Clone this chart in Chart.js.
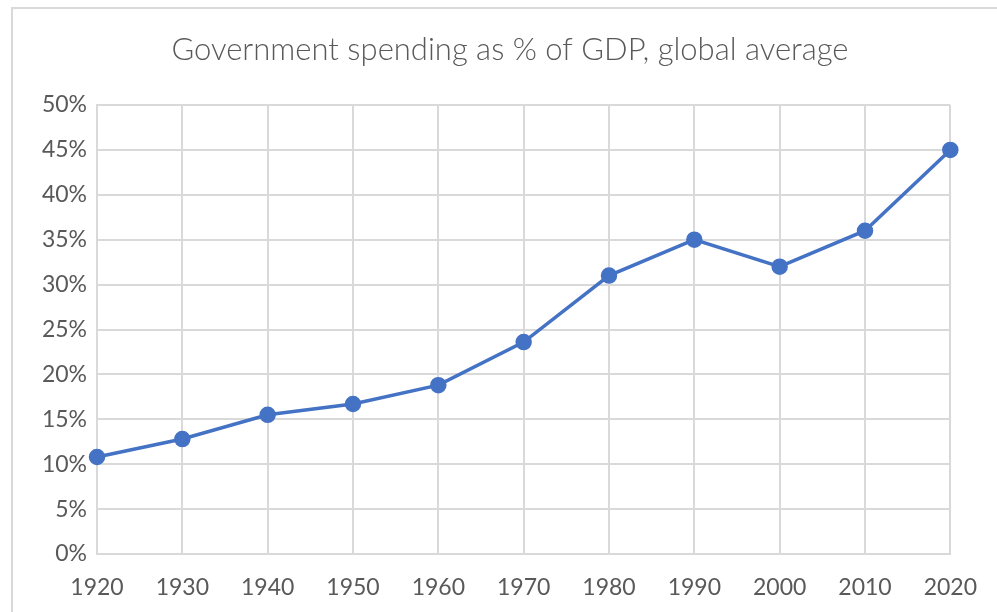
<!DOCTYPE html>
<html>
<head>
<meta charset="utf-8">
<script src="https://cdn.jsdelivr.net/npm/chart.js@4/dist/chart.umd.min.js"></script>
<style>
  html, body { margin: 0; padding: 0; background: #fff; }
  #wrap { position: relative; width: 997px; height: 612px; overflow: hidden; }
  #frame { position: absolute; left: 11px; top: 7px; width: 1100px; height: 700px; border: 2px solid #d9d9d9; box-sizing: border-box; }
  #c { position: absolute; left: 0; top: 0; }
</style>
</head>
<body>
<div id="wrap">
  <div id="frame"></div>
  <canvas id="c" width="997" height="612"></canvas>
</div>
<script>
const titleText = "Government spending as % of GDP, global average";
const years = ["1920", "1930", "1940", "1950", "1960", "1970", "1980", "1990", "2000", "2010", "2020"];
const spending = [10.8, 12.8, 15.5, 16.7, 18.8, 23.6, 31.0, 35.0, 32.0, 36.0, 45.0];
const yTicks = [0, 5, 10, 15, 20, 25, 30, 35, 40, 45, 50];

const FONT = "Lato, 'Open Sans', sans-serif";
const GRID = "#d9d9d9";
const TXT = "#595959";
const BLUE = "#4472C4";

// Title drawn centred on the chart frame (Excel-style), not on the padded area
const frameTitle = {
  id: "frameTitle",
  afterDraw(chart) {
    const ctx = chart.ctx;
    ctx.save();
    ctx.fillStyle = TXT;
    ctx.font = "300 31px " + FONT;
    ctx.textAlign = "center";
    ctx.textBaseline = "middle";
    ctx.fillText(titleText, 510, 50);
    ctx.restore();
  }
};

new Chart(document.getElementById("c"), {
  type: "line",
  data: {
    labels: years,
    datasets: [{
      data: spending,
      borderColor: BLUE,
      backgroundColor: BLUE,
      borderWidth: 3.5,
      pointRadius: 6.5,
      pointHoverRadius: 6.5,
      pointBackgroundColor: BLUE,
      pointBorderColor: BLUE,
      tension: 0,
      fill: false
    }]
  },
  plugins: [frameTitle],
  options: {
    responsive: false,
    animation: false,
    devicePixelRatio: 1,
    layout: { padding: { left: 0, right: 42, top: 105, bottom: 0 } },
    plugins: {
      legend: { display: false },
      tooltip: { enabled: false },
      title: { display: false }
    },
    scales: {
      x: {
        type: "category",
        offset: false,
        grid: { color: GRID, lineWidth: 2, drawTicks: false },
        border: { color: GRID, width: 2 },
        ticks: { color: TXT, font: { family: FONT, size: 23 }, padding: 20, maxRotation: 0, autoSkip: false },
        afterFit: (s) => { s.height = 58; }
      },
      y: {
        min: 0,
        max: 50,
        afterBuildTicks: (s) => { s.ticks = yTicks.map(v => ({ value: v })); },
        grid: { color: GRID, lineWidth: 2, drawTicks: false },
        border: { color: GRID, width: 2 },
        ticks: { color: TXT, font: { family: FONT, size: 23 }, padding: 10, callback: (v) => v + "%" },
        afterFit: (s) => { s.width = 97; }
      }
    }
  }
});
</script>
</body>
</html>
